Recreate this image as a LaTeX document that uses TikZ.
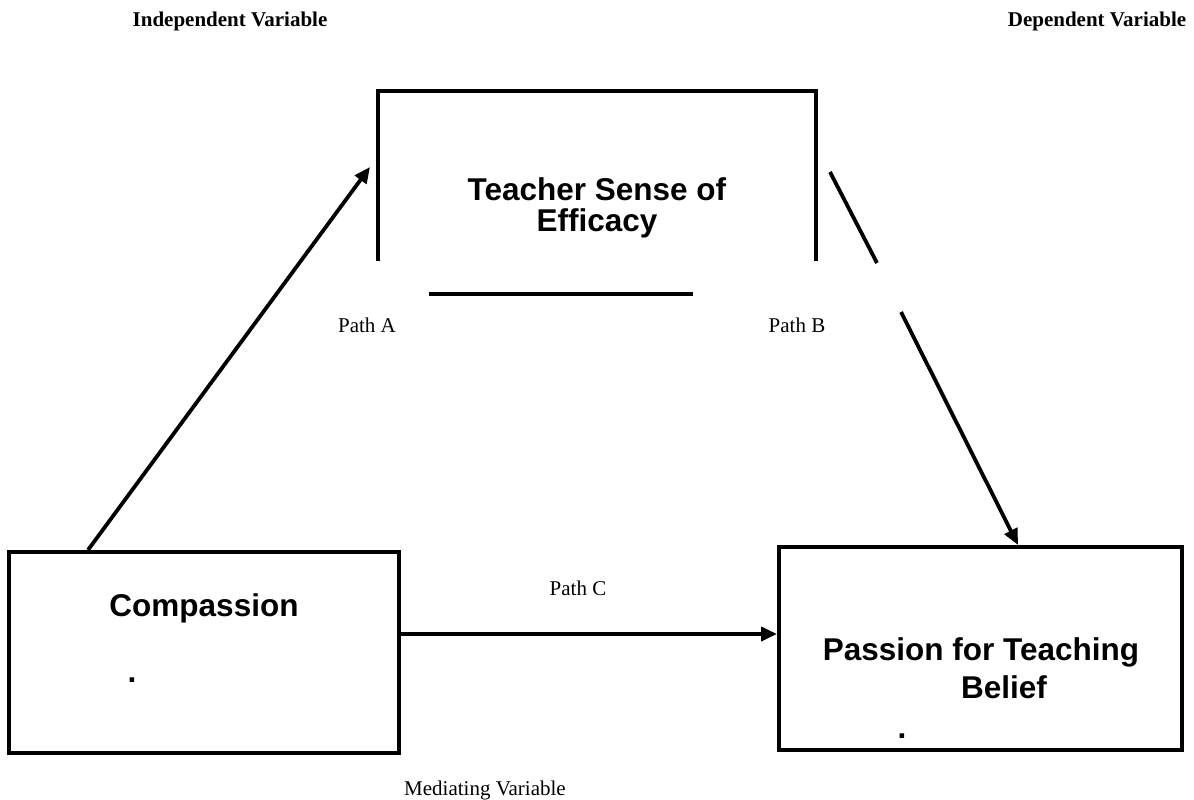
\documentclass[tikz,border=0pt]{standalone}
\usepackage{fontspec}
\setmainfont{Liberation Serif}
\newfontfamily\arialfont{Liberation Sans}
\usetikzlibrary{arrows.meta}
\begin{document}
\begin{tikzpicture}[x=1pt,y=-1pt,
  boxline/.style={draw=black,line width=4pt},
  varbox/.style={boxline,rectangle,inner sep=0pt},
  conn/.style={line width=3.8pt,-{Triangle[length=16pt,width=14pt]}},
  plainconn/.style={line width=3.8pt},
  bigtxt/.style={font=\arialfont\bfseries\fontsize{31.5}{36}\selectfont,inner sep=0pt,align=center},
  smalltxt/.style={font=\fontsize{21}{25}\selectfont,inner sep=0pt},
  headtxt/.style={font=\bfseries\fontsize{21}{25}\selectfont,inner sep=0pt}]
\useasboundingbox[fill=white] (0,0) rectangle (1194,800);

% header labels
\node[headtxt] (iv) at (230,21) {Independent Variable};
\node[headtxt] (dv) at (1097,21) {Dependent Variable};

% mediator box (open at bottom) with separate bottom bar
\draw[boxline] (378,261) -- (378,91) -- (816,91) -- (816,261);
\draw[boxline] (429,294) -- (693,294);
\node[bigtxt,font=\arialfont\bfseries\fontsize{31.5}{31}\selectfont] (tse) at (597,208) {Teacher Sense of\\Efficacy};

% independent and dependent boxes
\node[varbox,minimum width=390pt,minimum height=201pt] (comp) at (204,652.5) {};
\node[bigtxt] (compt) at (204,608) {Compassion};
\node[bigtxt] (compdot) at (132,680) {.};

\node[varbox,minimum width=403pt,minimum height=203pt] (pass) at (980.5,648.5) {};
\node[bigtxt] (passt1) at (981,652) {Passion for Teaching};
\node[bigtxt] (passt2) at (1004,687) {Belief};
\node[bigtxt] (passdot) at (902,736) {.};

% connectors
\coordinate (atip) at (370,167);
\coordinate (astart) at (88,0);
\draw[conn] (comp.north -| astart) -- (atip);

\coordinate (b1) at (830,172);
\coordinate (b2) at (877,263);
\coordinate (b3) at (901,312);
\coordinate (bend) at (1018,0);
\draw[plainconn] (b1) -- (b2);
\draw[conn] (b3) -- (pass.north -| bend);

\coordinate (cy) at (0,634);
\draw[conn] (comp.east |- cy) -- (pass.west |- cy);

% path labels
\node[smalltxt] (pa) at (367,325) {Path A};
\node[smalltxt] (pb) at (797,325) {Path B};
\node[smalltxt] (pc) at (578,588) {Path C};
\node[smalltxt] (mv) at (485,790) {Mediating Variable};
\end{tikzpicture}
\end{document}
